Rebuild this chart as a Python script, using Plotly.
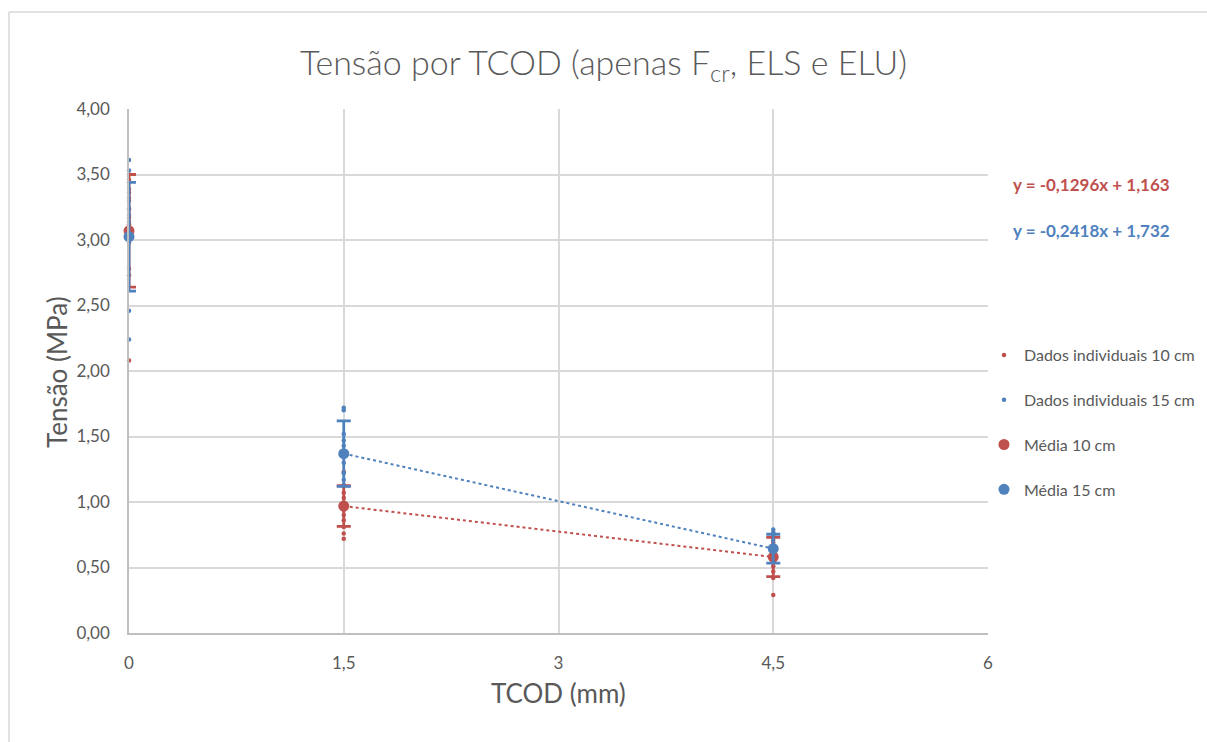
import plotly.graph_objects as go

# --- data ---------------------------------------------------------------
tcod = [0, 1.5, 4.5]

# individual results, 10 cm specimens
ind10_x = [0] * 11 + [1.5] * 11 + [4.5] * 9
ind10_y = [3.50, 3.46, 3.39, 3.36, 3.32, 3.23, 3.17, 3.12, 2.78, 2.73, 2.08,
           1.23, 1.13, 1.07, 1.03, 0.99, 0.94, 0.90, 0.86, 0.81, 0.76, 0.72,
           0.73, 0.69, 0.63, 0.59, 0.55, 0.51, 0.47, 0.42, 0.29]

# individual results, 15 cm specimens
ind15_x = [0] * 12 + [1.5] * 10 + [4.5] * 8
ind15_y = [3.61, 3.53, 3.44, 3.30, 3.24, 3.19, 3.14, 3.09, 3.05, 2.98, 2.46, 2.24,
           1.72, 1.70, 1.52, 1.47, 1.43, 1.37, 1.30, 1.22, 1.17, 1.12,
           0.79, 0.77, 0.74, 0.71, 0.67, 0.62, 0.58, 0.55]

# means and standard deviations
mean10 = [3.07, 0.969, 0.580]
sd10 = [0.43, 0.155, 0.15]
mean15 = [3.025, 1.369, 0.644]
sd15 = [0.415, 0.25, 0.11]

# linear trends (ELS -> ELU)
trend_x = [1.5, 4.5]
slope10, icpt10 = -0.1296, 1.163
slope15, icpt15 = -0.2418, 1.732

y_ticks = [0, 0.5, 1, 1.5, 2, 2.5, 3, 3.5, 4]
x_ticks = [0, 1.5, 3, 4.5, 6]

# --- style --------------------------------------------------------------
RED = "#C0504D"
BLUE = "#4F81BD"
TXT = "#595959"
GRID = "#D9D9D9"
FONT = "Lato, 'Open Sans', sans-serif"


def fmt(v, nd):
    return f"{v:.{nd}f}".replace(".", ",")


def eq_text(m, b):
    return f"y = {fmt(m, 4)}x + {fmt(b, 3)}"


fig = go.Figure()

# trend lines
fig.add_trace(go.Scatter(
    x=trend_x, y=[slope10 * x + icpt10 for x in trend_x], mode="lines",
    line=dict(color=RED, width=2, dash="dot"), showlegend=False, hoverinfo="skip"))
fig.add_trace(go.Scatter(
    x=trend_x, y=[slope15 * x + icpt15 for x in trend_x], mode="lines",
    line=dict(color=BLUE, width=2, dash="dot"), showlegend=False, hoverinfo="skip"))

# individual points
fig.add_trace(go.Scatter(
    x=ind10_x, y=ind10_y, mode="markers", name="Dados individuais 10 cm",
    marker=dict(color=RED, size=4.5), cliponaxis=False, legendgroup="a"))
fig.add_trace(go.Scatter(
    x=ind15_x, y=ind15_y, mode="markers", name="Dados individuais 15 cm",
    marker=dict(color=BLUE, size=4.5), cliponaxis=False, legendgroup="b"))

# means with error bars
fig.add_trace(go.Scatter(
    x=tcod, y=mean10, mode="markers", name="Média 10 cm",
    marker=dict(color=RED, size=11),
    error_y=dict(type="data", array=sd10, color=RED, thickness=2.8, width=7),
    cliponaxis=False, legendgroup="c"))
fig.add_trace(go.Scatter(
    x=tcod, y=mean15, mode="markers", name="Média 15 cm",
    marker=dict(color=BLUE, size=11),
    error_y=dict(type="data", array=sd15, color=BLUE, thickness=2.8, width=7),
    cliponaxis=False, legendgroup="d"))

L, R, T, B = 129, 219, 109, 109
W, H = 1207, 742
pw, ph = W - L - R, H - T - B


def px_x(p):
    return (p - L) / pw


def px_y(p):
    return (H - B - p) / ph


fig.update_layout(
    width=W, height=H,
    margin=dict(l=L, r=R, t=T, b=B, autoexpand=False),
    paper_bgcolor="white", plot_bgcolor="white",
    separators=", ",
    font=dict(family=FONT, color=TXT, size=16),
    title=dict(text="Tensão por TCOD (apenas F<sub>cr</sub>, ELS e ELU)",
               x=0.5, xref="container", xanchor="center",
               y=1 - 63 / H, yref="container", yanchor="middle",
               font=dict(family=FONT, size=34, color=TXT, weight=300)),
    xaxis=dict(range=[0, 6], tickmode="array", tickvals=x_ticks,
               showgrid=True, gridcolor=GRID, gridwidth=1.5,
               showline=True, linecolor="#BFBFBF", linewidth=1.5,
               zeroline=False, ticks="", ticklabelstandoff=14,
               tickfont=dict(size=17, color=TXT)),
    yaxis=dict(range=[0, 4], tickmode="array", tickvals=y_ticks, tickformat=".2f",
               showgrid=True, gridcolor=GRID, gridwidth=1.5,
               showline=True, linecolor="#BFBFBF", linewidth=1.5,
               zeroline=False, ticks="", ticklabelstandoff=14,
               tickfont=dict(size=17, color=TXT)),
    legend=dict(x=px_x(984), y=px_y(338), xref="paper", yref="paper",
                xanchor="left", yanchor="top", traceorder="grouped",
                tracegroupgap=21, font=dict(size=16, color=TXT),
                bgcolor="rgba(0,0,0,0)"),
    annotations=[
        dict(text="Tensão (MPa)", x=px_x(57), y=px_y(372), xref="paper", yref="paper",
             textangle=-90, showarrow=False, xanchor="center", yanchor="middle",
             font=dict(size=26, color=TXT)),
        dict(text="TCOD (mm)", x=0.5, y=px_y(693), xref="paper", yref="paper",
             showarrow=False, xanchor="center", yanchor="middle",
             font=dict(size=26, color=TXT)),
        dict(text="<b>" + eq_text(slope10, icpt10) + "</b>", x=px_x(1011), y=px_y(184),
             xref="paper", yref="paper", showarrow=False, xanchor="left",
             yanchor="middle", font=dict(size=17, color=RED)),
        dict(text="<b>" + eq_text(slope15, icpt15) + "</b>", x=px_x(1011), y=px_y(230),
             xref="paper", yref="paper", showarrow=False, xanchor="left",
             yanchor="middle", font=dict(size=17, color=BLUE)),
    ],
    shapes=[
        dict(type="line", xref="paper", yref="paper", x0=px_x(9), x1=px_x(9),
             y0=px_y(760), y1=px_y(12), line=dict(color=GRID, width=1.5)),
        dict(type="line", xref="paper", yref="paper", x0=px_x(9), x1=px_x(1220),
             y0=px_y(12), y1=px_y(12), line=dict(color=GRID, width=1.5)),
    ],
)

fig.write_html("out.html")
